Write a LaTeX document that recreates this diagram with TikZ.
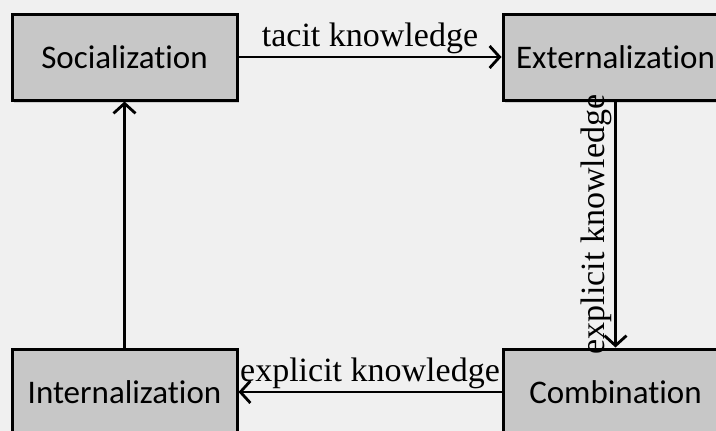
\documentclass[tikz,border=0pt]{standalone}
\usepackage{fontspec}
\setmainfont{Liberation Serif}
\newfontfamily\boxfont[Ligatures=NoCommon]{Carlito}
\usetikzlibrary{arrows.meta, shadows}
\definecolor{paper}{gray}{0.94}

\begin{document}
\begin{tikzpicture}[x=1pt, y=1pt,
  phase/.style={draw=black, line width=3pt, fill=black!22,
    minimum width=225pt, minimum height=86pt, inner sep=0pt,
    font=\boxfont\fontsize{33}{40}\selectfont,
    drop shadow={shadow xshift=2pt, shadow yshift=-2.5pt, opacity=0.3}},
  flow/.style={line width=2.8pt, -{Straight Barb[length=10pt, width=22pt, line width=2.8pt]}},
  lbl/.style={font=\fontsize{34}{40}\selectfont, inner sep=2pt}]
  % page
  \useasboundingbox (0,0) rectangle (716,-431);
  \clip (0,0) rectangle (716,-431);
  \fill[paper] (0,0) rectangle (716,-431);
  % the four phases
  \node[phase] (soc) at (124.5,-57) {Socialization};
  \node[phase] (ext) at (615.5,-57) {Externalization};
  \node[phase] (int) at (124.5,-392) {Internalization};
  \node[phase] (com) at (615.5,-392) {Combination};
  % knowledge flows round the cycle
  \draw[flow] (soc) -- node[lbl, above] {tacit knowledge} (ext);
  \draw[flow] (ext) -- node[lbl, rotate=90, anchor=south] {explicit knowledge} (com);
  \draw[flow] (com) -- node[lbl, above] {explicit knowledge} (int);
  \draw[flow] (int) -- (soc);
\end{tikzpicture}
\end{document}
